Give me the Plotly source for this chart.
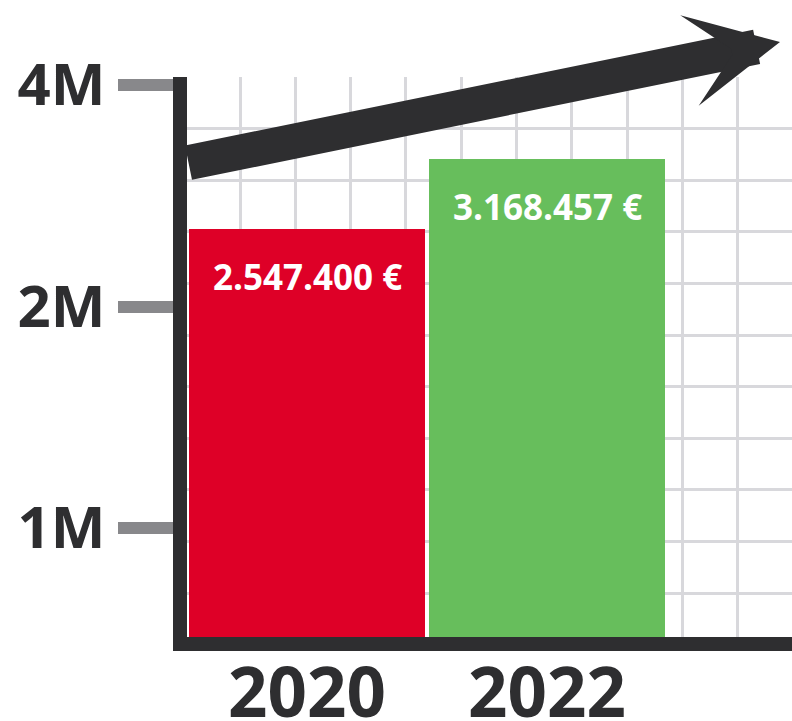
import math
import plotly.graph_objects as go

# ---- data ----
years = ["2020", "2022"]
revenue = [2547400, 3168457]
value_labels = ["2.547.400 €", "3.168.457 €"]
bar_colors = ["#DE0027", "#67BE5C"]
y_tick_values = [1_000_000, 2_000_000, 4_000_000]
y_tick_labels = ["1M", "2M", "4M"]

xpos = list(range(len(years)))

DARK = "#2E2E30"
GRID = "#D8D8DC"
TICK = "#88888B"
FONT = "Open Sans"

W, H = 792, 721
L, R, T, B = 187, 0, 77, 84
plot_w = W - L - R
plot_h = H - T - B

fig = go.Figure()
fig.add_trace(go.Bar(
    x=xpos, y=revenue,
    marker=dict(color=bar_colors, line=dict(width=0)),
    width=0.98, hoverinfo="skip", showlegend=False,
))

# value labels inside top of bars (annotation y on a log axis is given in log10 units)
for xi, v, lab in zip(xpos, revenue, value_labels):
    fig.add_annotation(
        x=xi, y=math.log10(v), xref="x", yref="y", text=lab, showarrow=False,
        yanchor="top", xanchor="center", yshift=-22,
        font=dict(family=FONT, size=35, color="white", weight="bold"),
    )

# decorative growth arrow
fig.add_annotation(
    x=(780 - L) / plot_w, y=(T + plot_h - 42) / plot_h, xref="paper", yref="paper",
    ax=-593, ay=121, axref="pixel", ayref="pixel",
    text="", showarrow=True, arrowhead=3, arrowsize=0.44, arrowwidth=35,
    arrowcolor=DARK, standoff=0,
)

x_px_per_unit = 240.0
x_lo = -0.5
x_hi = x_lo + plot_w / x_px_per_unit

fig.update_layout(
    width=W, height=H,
    margin=dict(l=L, r=R, t=T, b=B, pad=0, autoexpand=False),
    paper_bgcolor="white", plot_bgcolor="white",
    bargap=0,
    xaxis=dict(
        automargin=False,
        range=[x_lo, x_hi], tickmode="array", tickvals=xpos, ticktext=years,
        showgrid=False, zeroline=False, ticks="",
        showline=True, linecolor=DARK, linewidth=14,
        tickfont=dict(family=FONT, size=69, color=DARK, weight="bold"),
        ticklabelstandoff=-17,
        minor=dict(tickmode="linear", tick0=-0.279, dtick=0.2304,
                   showgrid=True, gridcolor=GRID, gridwidth=3, ticks=""),
    ),
    yaxis=dict(
        automargin=False,
        type="log", range=[5.8519, 6.6129],
        tickmode="array", tickvals=y_tick_values, ticktext=y_tick_labels,
        showgrid=False, zeroline=False,
        ticks="outside", ticklen=55, tickwidth=12, tickcolor=TICK,
        showline=True, linecolor=DARK, linewidth=14,
        tickfont=dict(family=FONT, size=58, color=DARK, weight="bold"),
        ticklabelstandoff=1,
        minor=dict(tickmode="linear", tick0=6.6129, dtick=0.07013,
                   showgrid=True, gridcolor=GRID, gridwidth=3, ticks=""),
    ),
)

fig.write_html("out.html", config={"displayModeBar": False},
               post_script="document.body.style.margin='0';")
